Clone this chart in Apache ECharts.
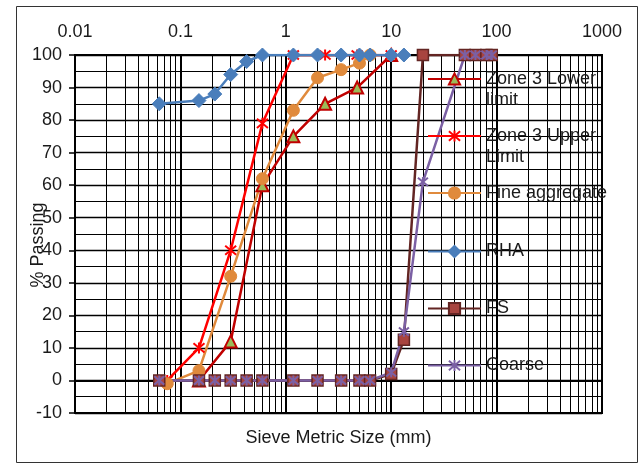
<!DOCTYPE html>
<html><head><meta charset="utf-8">
<script src="https://cdn.jsdelivr.net/npm/echarts@6/dist/echarts.min.js"></script>
<style>html,body{margin:0;padding:0;background:#fff}#c{width:639px;height:463px}</style>
</head><body><div id="c"></div>
<script>
// ---- data ----
const xTickLabels = ['0.01', '0.1', '1', '10', '100', '1000'];
const seriesNames = ['Zone 3 Lower limit', 'Zone 3 Upper Limit', 'Fine aggregate', 'RHA', 'FS', 'Coarse'];
const legendLabels = ['Zone 3 Lower\nlimit', 'Zone 3 Upper\nLimit', 'Fine aggregate', 'RHA', 'FS', 'Coarse'];

const lowerSieve = [0.15, 0.3, 0.6, 1.18, 2.36, 4.75, 10];
const lowerLimit = [0, 12, 60, 75, 85, 90, 100];

const upperSieve = [0.075, 0.15, 0.3, 0.6, 1.18, 2.36, 4.75, 10];
const upperLimit = [0, 10, 40, 79, 100, 100, 100, 100];

const fineSieve = [0.075, 0.15, 0.3, 0.6, 1.18, 2, 3.35, 5, 6.3];
const fineAgg = [-1, 3, 32, 62, 83, 93, 95.5, 97.5, 100];

const rhaSieve = [0.063, 0.15, 0.212, 0.3, 0.425, 0.6, 1.18, 2, 3.35, 5, 6.3, 10, 13.2];
const rha = [85, 86, 88, 94, 98, 100, 100, 100, 100, 100, 100, 100, 100];

const aggSieve = [0.063, 0.15, 0.212, 0.3, 0.425, 0.6, 1.18, 2, 3.35, 5, 6.3, 10, 13.2, 20, 50, 63, 80, 90];
const fs =     [0, 0, 0, 0, 0, 0, 0, 0, 0, 0, 0, 2, 12.5, 100, 100, 100, 100, 100];
const coarse = [0, 0, 0, 0, 0, 0, 0, 0, 0, 0, 0, 2.5, 15, 61, 100, 100, 100, 100];

// ---- layout / style ----
const FONT = 'Liberation Sans, Arial, sans-serif';
const TXT = '#1a1a1a';
const pairs = (xs, ys) => xs.map((x, i) => [x, ys[i]]);
const starPath = 'path://M0,0L10,10M10,0L0,10M5,-1L5,11';

// minor log grid positions (2..9 in each decade)
const minorX = [];
for (let d = -2; d < 3; d++) for (let k = 2; k <= 9; k++) minorX.push(k * Math.pow(10, d));

const legendCenters = [79, 136, 193, 251.5, 308.5, 365.5];
const LH = 21;

const chart = echarts.init(document.getElementById('c'));
chart.setOption({
  animation: false,
  backgroundColor: '#fff',
  textStyle: { fontFamily: FONT },
  graphic: [{
    type: 'rect', left: 14, top: 4, silent: true, z: -1,
    shape: { width: 621, height: 456 },
    style: { fill: 'none', stroke: '#333', lineWidth: 1 }
  }],
  grid: { left: 75, right: 37, top: 55, bottom: 50, show: true, borderColor: '#000', borderWidth: 2, backgroundColor: 'transparent' },
  xAxis: [{
    type: 'log', logBase: 10, min: 0.01, max: 1000, position: 'top',
    axisLine: { show: true, lineStyle: { color: '#000', width: 2 } },
    axisTick: { show: false },
    axisLabel: { margin: 14, fontSize: 18, color: TXT, fontFamily: FONT, formatter: (v, i) => xTickLabels[i] },
    splitLine: { show: true, lineStyle: { color: '#000', width: 2 } }
  }, {
    type: 'log', logBase: 10, min: 0.01, max: 1000, position: 'bottom',
    axisLine: { show: false }, axisTick: { show: false }, axisLabel: { show: false }, splitLine: { show: false },
    name: 'Sieve Metric Size (mm)', nameLocation: 'middle', nameGap: 16, nameMoveOverlap: false,
    nameTextStyle: { fontSize: 18, color: TXT, fontFamily: FONT }
  }],
  yAxis: {
    type: 'value', min: -10, max: 100, interval: 10,
    axisLine: { show: true, lineStyle: { color: '#000', width: 2 } },
    axisTick: { show: true, length: 6, lineStyle: { color: '#000', width: 1.5 } },
    axisLabel: { margin: 13, fontSize: 18, color: TXT, fontFamily: FONT },
    splitLine: { show: true, lineStyle: { color: '#000', width: 1.4 } },
    minorTick: { show: false, splitNumber: 2 },
    minorSplitLine: { show: true, lineStyle: { color: '#000', width: 1 } },
    name: '% Passing', nameLocation: 'middle', nameGap: 28, nameRotate: 90, nameMoveOverlap: false,
    nameTextStyle: { fontSize: 18, color: TXT, fontFamily: FONT, padding: [0, 22, 0, 0] }
  },
  legend: seriesNames.map((n, i) => {
    const two = legendLabels[i].indexOf('\n') >= 0;
    return {
      data: [n], left: 427, top: legendCenters[i] - (two ? 1.5 * LH : 0.5 * LH),
      orient: 'vertical', padding: 0, itemWidth: 53, itemHeight: 14, selectedMode: false,
      formatter: () => (two ? ' \n' : '') + legendLabels[i],
      textStyle: { fontSize: 18, lineHeight: LH, color: TXT, fontFamily: FONT }
    };
  }),
  series: [
    {
      name: '_grid', type: 'line', data: [], silent: true,
      markLine: {
        silent: true, symbol: 'none', z: 1, animation: false,
        label: { show: false },
        lineStyle: { color: '#000', width: 1, type: 'solid' },
        data: minorX.map(v => ({ xAxis: v }))
      }
    },
    {
      name: seriesNames[0], type: 'line', data: pairs(lowerSieve, lowerLimit),
      symbol: 'triangle', symbolSize: 12,
      lineStyle: { color: '#C00000', width: 2.5 },
      itemStyle: { color: '#9BBB59', borderColor: '#C00000', borderWidth: 2 }
    },
    {
      name: seriesNames[1], type: 'line', data: pairs(upperSieve, upperLimit),
      symbol: starPath, symbolSize: 11,
      lineStyle: { color: '#FF0000', width: 2.5 },
      itemStyle: { color: '#FF0000', borderColor: '#FF0000', borderWidth: 2 }
    },
    {
      name: seriesNames[2], type: 'line', data: pairs(fineSieve, fineAgg),
      symbol: 'circle', symbolSize: 12,
      lineStyle: { color: '#E08A3C', width: 2.5 },
      itemStyle: { color: '#E08A3C', borderColor: '#E08A3C', borderWidth: 1 }
    },
    {
      name: seriesNames[3], type: 'line', data: pairs(rhaSieve, rha),
      symbol: 'diamond', symbolSize: 14,
      lineStyle: { color: '#4A7EBB', width: 2.5 },
      itemStyle: { color: '#4A7EBB', borderColor: '#4A7EBB', borderWidth: 1 }
    },
    {
      name: seriesNames[4], type: 'line', data: pairs(aggSieve, fs),
      symbol: 'rect', symbolSize: 11,
      lineStyle: { color: '#632523', width: 2.5 },
      itemStyle: { color: '#A8443F', borderColor: '#632523', borderWidth: 1.5 }
    },
    {
      name: seriesNames[5], type: 'line', data: pairs(aggSieve, coarse),
      symbol: starPath, symbolSize: 10,
      lineStyle: { color: '#7B60A4', width: 2.5 },
      itemStyle: { color: '#7B60A4', borderColor: '#7B60A4', borderWidth: 2 }
    }
  ]
});
</script>
</body></html>
